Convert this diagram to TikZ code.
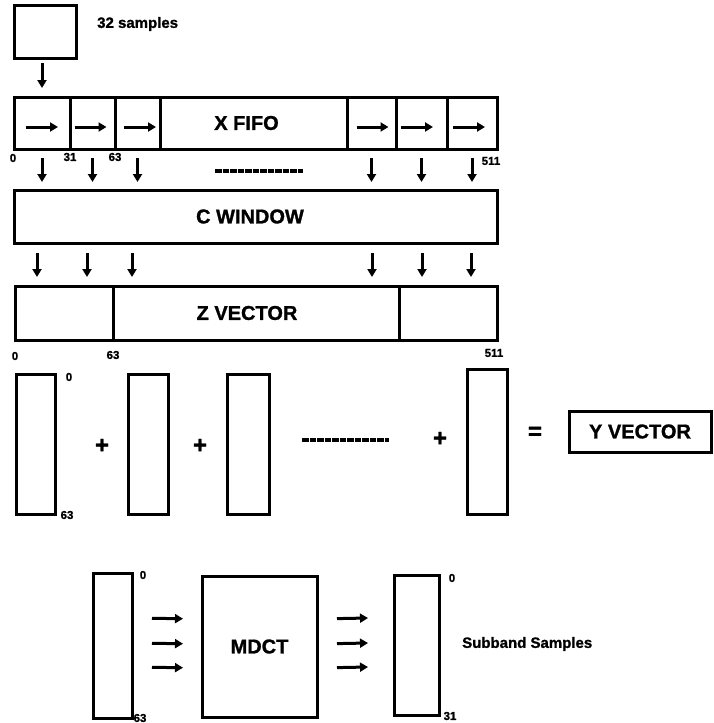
\documentclass[tikz,border=0pt]{standalone}
\usepackage{fontspec}
\setmainfont{Liberation Sans}[BoldFeatures={FakeBold=1.2}]
\usetikzlibrary{arrows.meta}
\tikzset{
  blk/.style={draw, line width=3pt, inner sep=0pt, outer sep=0pt, font=\bfseries\fontsize{20}{22}\selectfont},
  vec/.style={blk, minimum width=40pt, minimum height=140pt},
  arr/.style={line width=3pt, -{Triangle[length=8pt,width=9pt]}},
  idx/.style={font=\bfseries\fontsize{11.5}{12}\selectfont, inner sep=0pt},
  txt/.style={font=\bfseries\fontsize{15}{17}\selectfont, inner sep=0pt},
  sym/.style={font=\bfseries\fontsize{24}{26}\selectfont, inner sep=0pt},
  gap/.style={line width=3.6pt, dash pattern=on 6.5pt off 1pt},
}
\begin{document}
\begin{tikzpicture}[x=1pt,y=-1pt]
                \useasboundingbox (0,0) rectangle (713,723);
                \node[blk, minimum width=62pt, minimum height=53pt] (smp) at (45,31.5) {};
                \node[txt, anchor=west] (smplbl) at (97,24) {32 samples};
                \node[blk, minimum width=56pt, minimum height=52pt] (c1) at (42,123) {};
                \node[blk, minimum width=45pt, minimum height=52pt] (c2) at (92.5,123) {};
                \node[blk, minimum width=45pt, minimum height=52pt] (c3) at (137.5,123) {};
                \node[blk, minimum width=187pt, minimum height=52pt] (xf) at (253.5,123) {\hspace*{-14pt}X FIFO};
                \node[blk, minimum width=49pt, minimum height=52pt] (c4) at (371.5,123) {};
                \node[blk, minimum width=51pt, minimum height=52pt] (c5) at (421.5,123) {};
                \node[blk, minimum width=50pt, minimum height=52pt] (c6) at (472,123) {};
                \draw[arr, shorten <=5pt, shorten >=9pt] (c1.north |- smp.south) -- (c1.north);
                \foreach \c/\o in {c1/0pt,c2/-2pt,c3/2.5pt,c4/1pt,c5/-4.5pt,c6/-3pt}
                    \draw[arr] ([xshift=\o-16pt,yshift=-4pt]\c.center) -- ([xshift=\o+16pt,yshift=-4pt]\c.center);
                \node[idx] (x0) at (13,158) {0};
                \node[idx] (x31) at (70,157) {31};
                \node[idx] (x63) at (115,157) {63};
                \node[idx] (x511) at (491,161) {511};
                \node[blk, minimum width=483pt, minimum height=53pt] (cwin) at (255.5,216.5) {\hspace*{-11pt}C WINDOW};
                \foreach \c in {c1,c2,c3,c4,c5,c6}
                    \draw[arr, shorten <=9pt, shorten >=8pt] (\c.south) -- (\c.south |- cwin.north);
                \draw[gap] (215,171) -- (303,171);
                \node[blk, minimum width=98pt, minimum height=54pt] (z1) at (64,313) {};
                \node[blk, minimum width=286pt, minimum height=54pt] (zv) at (256,313) {\hspace*{-18pt}Z VECTOR};
                \node[blk, minimum width=98pt, minimum height=54pt] (z2) at (448,313) {};
                \foreach \x in {37,87,132,372,422,471}
                    \draw[arr, shorten <=10pt, shorten >=9pt] (\x,0 |- cwin.south) -- (\x,0 |- zv.north);
                \node[idx] (z0) at (15,356) {0};
                \node[idx] (z63) at (113,355) {63};
                \node[idx] (z511) at (494,353) {511};
                \node[vec, minimum width=39pt] (v1) at (35.5,444) {};
                \node[vec] (v2) at (148,444) {};
                \node[vec, minimum width=42pt] (v3) at (248,444) {};
                \node[vec, minimum height=145pt] (v4) at (487,441.5) {};
                \node[idx] (v0) at (69,377) {0};
                \node[idx] (v63) at (67,515) {63};
                \node[sym] (p1) at (102,446) {+};
                \node[sym] (p2) at (200,446) {+};
                \node[sym] (p3) at (440,439) {+};
                \draw[gap] (302,440) -- (389,440);
                \node[sym] (eq) at (535,433) {=};
                \node[blk, minimum width=142pt, minimum height=41pt] (yv) at (640,431.5) {Y VECTOR};
                \node[vec, minimum width=39pt, minimum height=145pt] (vl) at (112.5,645.5) {};
                \node[blk, minimum width=115pt, minimum height=141pt] (mdct) at (259.5,646.5) {MDCT};
                \node[vec, minimum width=45pt] (vr) at (416.5,645) {};
                \foreach \dy in {27.5pt,2.5pt,-21.5pt} {
                    \draw[arr, shorten <=20pt, shorten >=19pt] ([yshift=\dy]vl.east) -- ([yshift=\dy]mdct.west);
                    \draw[arr, shorten <=20pt, shorten >=26pt] ([yshift=\dy]mdct.east) -- ([yshift=\dy]vr.west);
                }
                \node[idx] (l0) at (143,575) {0};
                \node[idx] (l63) at (140,718) {63};
                \node[idx] (r0) at (452,578) {0};
                \node[idx] (r31) at (450,716) {31};
                \node[txt, anchor=west] (sub) at (462,644) {Subband Samples};
            \end{tikzpicture}
\end{document}
